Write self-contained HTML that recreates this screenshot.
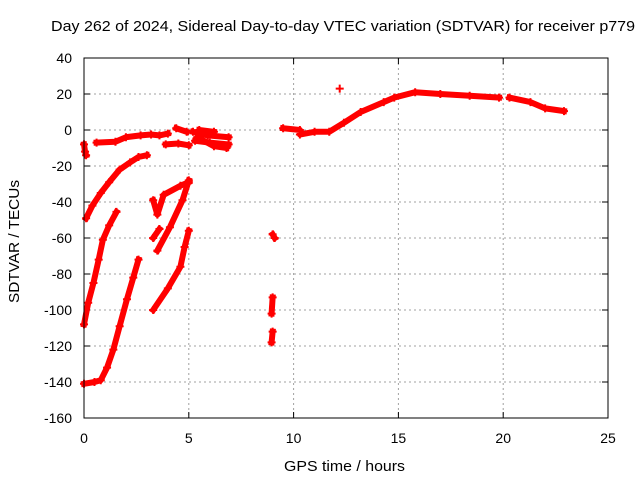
<!DOCTYPE html>
<html><head><meta charset="utf-8"><style>
body{margin:0;background:#fff}
svg{display:block;font-family:"Liberation Sans",sans-serif}
</style></head><body>
<svg id="c" width="640" height="480" xmlns="http://www.w3.org/2000/svg">
<rect width="640" height="480" fill="#fff"/>
<text x="51" y="31" font-size="15" textLength="584" lengthAdjust="spacingAndGlyphs">Day 262 of 2024, Sidereal Day-to-day VTEC variation (SDTVAR) for receiver p779</text>
<text x="284" y="471" font-size="15" textLength="121" lengthAdjust="spacingAndGlyphs">GPS time / hours</text>
<text transform="translate(19,303) rotate(-90)" font-size="15" textLength="123" lengthAdjust="spacingAndGlyphs">SDTVAR / TECUs</text>
<g id="grid"></g><g id="marks"></g>
<rect x="84" y="58" width="524" height="360" fill="none" stroke="#000" stroke-width="1"/>
</svg>
<script>
const xTicks=[0,5,10,15,20,25];
const yTicks=[40,20,0,-20,-40,-60,-80,-100,-120,-140,-160];
const segA=[[0.6,-7],[1.5,-6.5],[2.0,-4],[2.7,-3],[3.2,-2.5],[3.6,-3],[4.0,-2]];
const segB=[[4.4,1],[4.9,-1]];
const segC=[[3.9,-8],[4.5,-7.5],[5.0,-8.5]];
const segD1=[[5.2,-1],[5.9,-3],[6.9,-4]];
const segD2=[[5.3,-6],[6.0,-7],[6.9,-8]];
const segD3=[[5.5,0],[6.2,-1]];
const segD4=[[5.4,-4],[6.2,-9],[6.8,-10]];
const segStart=[[0,-8],[0.05,-12],[0.1,-14]];
const segE=[[0.1,-49],[0.4,-42],[0.8,-35],[1.2,-29],[1.7,-22],[2.2,-18],[2.6,-15],[3.0,-14]];
const segF=[[0,-108],[0.2,-96],[0.45,-85],[0.7,-72],[0.9,-61],[1.2,-53],[1.55,-45.5]];
const segG=[[0,-141],[0.5,-140],[0.8,-139],[1.1,-132],[1.4,-122],[1.7,-109],[2.05,-94],[2.35,-82],[2.6,-72]];
const segH=[[3.3,-100],[4.0,-88],[4.6,-76],[4.8,-65],[5.0,-56]];
const segI=[[3.5,-67],[4.1,-54],[4.7,-39],[5.0,-28]];
const segJ=[[3.3,-39],[3.5,-47],[3.8,-36],[4.6,-31],[5.0,-29]];
const segK=[[3.3,-60],[3.6,-55]];
const seg9a=[[9.0,-58],[9.1,-60]];
const seg9b=[[9.0,-93],[8.95,-102]];
const seg9c=[[9.0,-112],[8.95,-118]];
const segR1=[[9.5,1],[10.3,0],[10.3,-2.5],[11.0,-1],[11.7,-1],[12.4,4],[13.2,10],[14.3,15.5],[14.8,18],[15.8,21],[17,20],[18.4,19],[19.8,18]];
const segR2=[[20.3,18],[21.3,15.5],[22.0,12],[22.9,10.5]];
const segOut=[[12.2,23]];
const series=[segA,segB,segC,segD1,segD2,segD3,segD4,segStart,segE,segF,segG,segH,segI,segJ,segK,seg9a,seg9b,seg9c,segR1,segR2,segOut];
const X=h=>84+h*(524/25), Y=v=>58+(40-v)*(360/200);
const NS="http://www.w3.org/2000/svg";
const grid=document.getElementById('grid'), marks=document.getElementById('marks');
function mk(tag,attrs,parent){const e=document.createElementNS(NS,tag);for(const k in attrs)e.setAttribute(k,attrs[k]);parent.appendChild(e);return e;}
xTicks.forEach(t=>{const x=X(t);
 if(t>0&&t<25){const g=mk('line',{x1:x,y1:58,x2:x,y2:418,stroke:'#a0a0a0','stroke-dasharray':'2,3'},grid);
 
 }
 mk('line',{x1:x,y1:418,x2:x,y2:412,stroke:'#000'},grid);mk('line',{x1:x,y1:58,x2:x,y2:64,stroke:'#000'},grid);
 const l=mk('text',{x:x,y:443,'font-size':14,'text-anchor':'middle'},grid);l.textContent=t;
 
 });
yTicks.forEach(t=>{const y=Y(t);
 if(t<40&&t>-160){const g=mk('line',{x1:84,y1:y,x2:608,y2:y,stroke:'#a0a0a0','stroke-dasharray':'2,3'},grid);
 
 }
 mk('line',{x1:84,y1:y,x2:90,y2:y,stroke:'#000'},grid);mk('line',{x1:608,y1:y,x2:602,y2:y,stroke:'#000'},grid);
 const l=mk('text',{x:72,y:y+5,'font-size':14,'text-anchor':'end'},grid);l.textContent=t;
 
 });
series.forEach(s=>{
 const pl=mk('polyline',{points:s.map(p=>X(p[0])+','+Y(p[1])).join(' '),fill:'none',stroke:'#f00','stroke-width':6,'stroke-linejoin':'round','stroke-linecap':'square'},marks);
 
 
 s.forEach(p=>{const x=X(p[0]),y=Y(p[1]);
  const m=mk('path',{d:`M${x-4},${y}H${x+4}M${x},${y-4}V${y+4}`,stroke:'#f00','stroke-width':2},marks);
  
  });
});
</script>
</body></html>
